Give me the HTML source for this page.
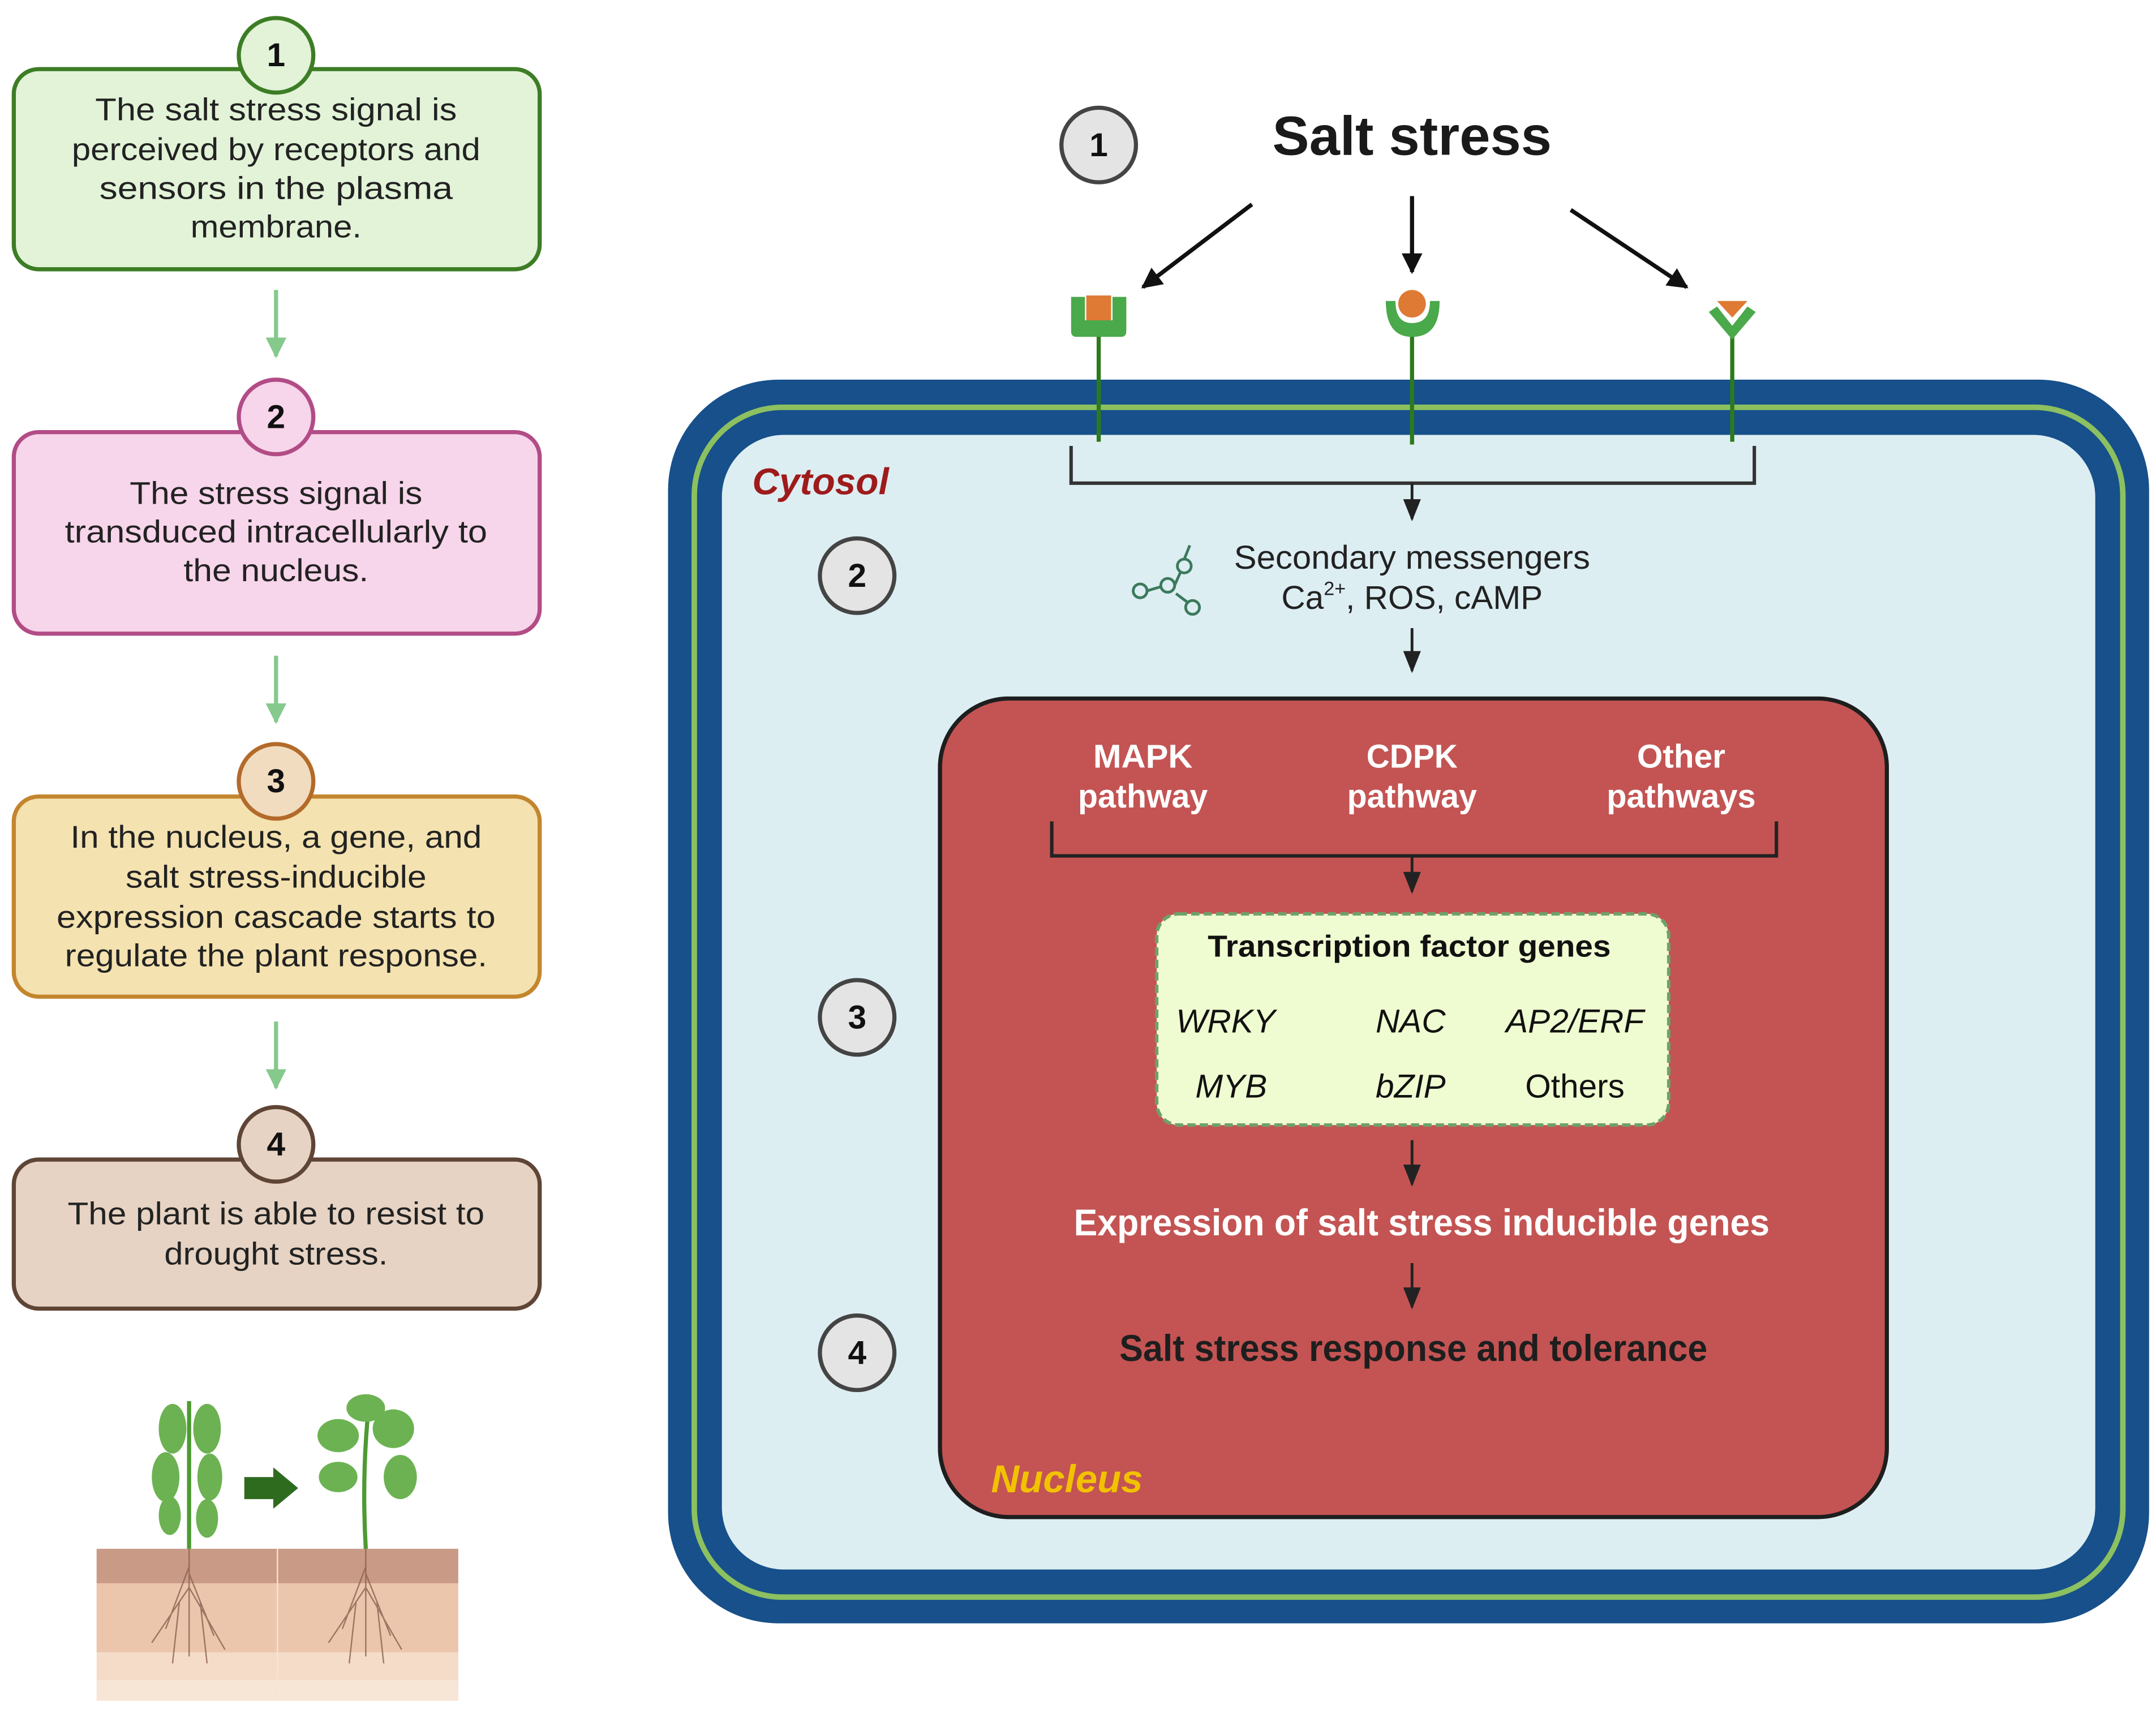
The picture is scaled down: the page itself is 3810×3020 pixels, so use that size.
<!DOCTYPE html>
<html><head><meta charset="utf-8"><style>html,body{margin:0;padding:0;background:#fff}svg{display:block}</style></head>
<body>
<svg width="3810" height="3020" viewBox="0 0 1562 1238" xmlns="http://www.w3.org/2000/svg" font-family="'Liberation Sans', sans-serif">
<defs>
<marker id="ah" viewBox="0 0 10 10" refX="9" refY="5" markerWidth="5" markerHeight="5" orient="auto"><path d="M0,0 L10,5 L0,10 z" fill="#111"/></marker>
<marker id="ahs" viewBox="0 0 10 10" refX="9" refY="5" markerWidth="8" markerHeight="8" orient="auto"><path d="M0,1 L10,5 L0,9 z" fill="#222"/></marker>
<marker id="ahg" viewBox="0 0 10 10" refX="9" refY="5" markerWidth="5" markerHeight="5" orient="auto"><path d="M0,0 L10,5 L0,10 z" fill="#86c98c"/></marker>
</defs>
<rect width="1562" height="1238" fill="#fff"/>

<!-- Left boxes -->
<g stroke-width="3">
<rect x="10" y="50" width="381" height="145" rx="18" fill="#e2f3d8" stroke="#3d7d25"/>
<rect x="10" y="313" width="381" height="146" rx="18" fill="#f7d5ea" stroke="#b24c86"/>
<rect x="10" y="577" width="381" height="145" rx="18" fill="#f4e2b0" stroke="#c3862e"/>
<rect x="10" y="840" width="381" height="108" rx="18" fill="#e6d3c3" stroke="#5f4536"/>
<circle cx="200" cy="40" r="27" fill="#e2f3d8" stroke="#3d7d25"/>
<circle cx="200" cy="302" r="27" fill="#f7d5ea" stroke="#b24c86"/>
<circle cx="200" cy="566" r="27" fill="#f1dcc0" stroke="#b36a2a"/>
<circle cx="200" cy="829" r="27" fill="#e6d3c3" stroke="#5f4536"/>
</g>
<g font-size="24" font-weight="bold" text-anchor="middle" fill="#111">
<text x="200" y="48">1</text><text x="200" y="310">2</text><text x="200" y="574">3</text><text x="200" y="837">4</text>
</g>
<g font-size="23" text-anchor="middle" fill="#222">
<text x="200" y="87" textLength="262" lengthAdjust="spacingAndGlyphs">The salt stress signal is</text>
<text x="200" y="116" textLength="296" lengthAdjust="spacingAndGlyphs">perceived by receptors and</text>
<text x="200" y="144" textLength="256" lengthAdjust="spacingAndGlyphs">sensors in the plasma</text>
<text x="200" y="172" textLength="124" lengthAdjust="spacingAndGlyphs">membrane.</text>
<text x="200" y="365" textLength="212" lengthAdjust="spacingAndGlyphs">The stress signal is</text>
<text x="200" y="393" textLength="306" lengthAdjust="spacingAndGlyphs">transduced intracellularly to</text>
<text x="200" y="421" textLength="134" lengthAdjust="spacingAndGlyphs">the nucleus.</text>
<text x="200" y="614" textLength="298" lengthAdjust="spacingAndGlyphs">In the nucleus, a gene,  and</text>
<text x="200" y="643" textLength="218" lengthAdjust="spacingAndGlyphs">salt stress-inducible</text>
<text x="200" y="672" textLength="318" lengthAdjust="spacingAndGlyphs">expression cascade starts to</text>
<text x="200" y="700" textLength="306" lengthAdjust="spacingAndGlyphs">regulate the plant response.</text>
<text x="200" y="887" textLength="302" lengthAdjust="spacingAndGlyphs">The plant is able to resist to</text>
<text x="200" y="916" textLength="162" lengthAdjust="spacingAndGlyphs">drought stress.</text>
</g>
<g stroke="#86c98c" stroke-width="3" marker-end="url(#ahg)">
<line x1="200" y1="210" x2="200" y2="258"/><line x1="200" y1="475" x2="200" y2="523"/><line x1="200" y1="740" x2="200" y2="788"/>
</g>

<!-- plants -->
<rect x="70" y="1122" width="262" height="110" fill="#f5dcc8"/>
<rect x="70" y="1122" width="262" height="25" fill="#c99a86"/>
<rect x="70" y="1147" width="262" height="50" fill="#ebc6ad"/>
<rect x="70" y="1217" width="262" height="15" fill="#f7e5d6"/>
<line x1="201" y1="1122" x2="201" y2="1232" stroke="#f5e3d5" stroke-width="1"/>
<g stroke="#8a6150" stroke-width="1" fill="none" opacity="0.8">
<path d="M137 1122 L137 1200 M137 1135 L120 1180 M137 1140 L155 1185 M137 1150 L110 1190 M137 1150 L163 1195 M130 1160 L125 1205 M145 1160 L150 1205"/>
<path d="M265 1122 L265 1200 M265 1135 L248 1180 M265 1140 L283 1185 M265 1150 L238 1190 M265 1150 L291 1195 M258 1160 L253 1205 M273 1160 L278 1205"/>
</g>
<g stroke="#4d9a32" stroke-width="3" fill="none"><path d="M137 1122 L137 1015"/><path d="M265 1122 Q262 1070 267 1020"/></g>
<g fill="#6cb252">
<ellipse cx="125" cy="1035" rx="10" ry="18"/><ellipse cx="150" cy="1035" rx="10" ry="18"/>
<ellipse cx="120" cy="1070" rx="10" ry="18"/><ellipse cx="152" cy="1070" rx="9" ry="17"/>
<ellipse cx="123" cy="1098" rx="8" ry="14"/><ellipse cx="150" cy="1100" rx="8" ry="14"/>
<ellipse cx="245" cy="1040" rx="15" ry="12"/><ellipse cx="285" cy="1035" rx="15" ry="14"/>
<ellipse cx="245" cy="1070" rx="14" ry="11"/><ellipse cx="290" cy="1070" rx="12" ry="16"/>
<ellipse cx="265" cy="1020" rx="14" ry="10"/>
</g>
<path d="M177 1070 L198 1070 L198 1063 L216 1078 L198 1093 L198 1086 L177 1086 z" fill="#2e6b1e"/>

<!-- Cell -->
<rect x="484" y="275" width="1073" height="901" rx="80" fill="#17508a"/>
<rect x="503" y="295" width="1035" height="862" rx="64" fill="none" stroke="#8cc060" stroke-width="4"/>
<rect x="523" y="315" width="995" height="822" rx="45" fill="#ddeef3"/>
<text x="545" y="358" font-size="27" font-weight="bold" font-style="italic" fill="#9e1b1b">Cytosol</text>

<!-- Salt stress -->
<text x="1023" y="112" font-size="40" font-weight="bold" text-anchor="middle" fill="#1a1a1a">Salt stress</text>
<g stroke="#111" stroke-width="3" marker-end="url(#ah)">
<line x1="907" y1="148" x2="828" y2="208"/><line x1="1023" y1="142" x2="1023" y2="197"/><line x1="1138" y1="152" x2="1222" y2="208"/>
</g>
<!-- receptors -->
<g stroke="#2c7a1c" stroke-width="3"><line x1="796" y1="240" x2="796" y2="320"/><line x1="1023" y1="240" x2="1023" y2="322"/><line x1="1255" y1="240" x2="1255" y2="320"/></g>
<path d="M776 215 L786 215 L786 232 L806 232 L806 215 L816 215 L816 240 Q816 244 812 244 L780 244 Q776 244 776 240 z" fill="#4aa94a"/>
<rect x="787" y="214" width="18" height="18" fill="#de7a34"/>
<path d="M1004 218 Q1004 244 1023 244 Q1043 244 1043 218 L1036 218 Q1036 234 1023 234 Q1011 234 1011 218 z" fill="#4aa94a"/>
<circle cx="1023" cy="220" r="10" fill="#de7a34"/>
<path d="M1238 226 L1255 246 L1272 226 L1266 222 L1255 236 L1244 222 z" fill="#4aa94a"/>
<path d="M1244 218 L1266 218 L1255 230 z" fill="#de7a34"/>

<!-- bracket -->
<path d="M776 323 L776 350 L1271 350 L1271 323" fill="none" stroke="#333" stroke-width="2.5"/>
<line x1="1023" y1="350" x2="1023" y2="376" stroke="#222" stroke-width="2" marker-end="url(#ahs)"/>
<g stroke="#3b7a5c" stroke-width="2" fill="none">
<circle cx="826" cy="428" r="5"/><circle cx="846" cy="424" r="5"/><circle cx="858" cy="410" r="5"/><circle cx="864" cy="440" r="5"/>
<path d="M831 428 L841 425 M851 424 L855 415 M858 405 L862 395 M852 430 L860 436"/>
</g>
<text x="1023" y="412" font-size="24" text-anchor="middle" fill="#222" textLength="258" lengthAdjust="spacingAndGlyphs">Secondary messengers</text>
<text x="1023" y="441" font-size="24" text-anchor="middle" fill="#222">Ca<tspan font-size="14" dy="-10">2+</tspan><tspan dy="10">, ROS, cAMP</tspan></text>
<line x1="1023" y1="455" x2="1023" y2="486" stroke="#222" stroke-width="2" marker-end="url(#ahs)"/>

<!-- Nucleus -->
<rect x="681" y="506" width="686" height="593" rx="50" fill="#c35453" stroke="#1e1e1e" stroke-width="3"/>
<g font-size="24" font-weight="bold" text-anchor="middle" fill="#fff">
<text x="828" y="556" textLength="72" lengthAdjust="spacingAndGlyphs">MAPK</text><text x="828" y="585" textLength="94" lengthAdjust="spacingAndGlyphs">pathway</text>
<text x="1023" y="556" textLength="66" lengthAdjust="spacingAndGlyphs">CDPK</text><text x="1023" y="585" textLength="94" lengthAdjust="spacingAndGlyphs">pathway</text>
<text x="1218" y="556" textLength="64" lengthAdjust="spacingAndGlyphs">Other</text><text x="1218" y="585" textLength="108" lengthAdjust="spacingAndGlyphs">pathways</text>
</g>
<path d="M762 595 L762 620 L1287 620 L1287 595" fill="none" stroke="#222" stroke-width="2.5"/>
<line x1="1023" y1="620" x2="1023" y2="646" stroke="#222" stroke-width="2" marker-end="url(#ahs)"/>
<rect x="838" y="662" width="371" height="153" rx="16" fill="#effbd0" stroke="#6fa06a" stroke-width="2.5" stroke-dasharray="6 3"/>
<text x="1021" y="693" font-size="22" font-weight="bold" text-anchor="middle" fill="#111" textLength="292" lengthAdjust="spacingAndGlyphs">Transcription factor genes</text>
<g font-size="24" font-style="italic" text-anchor="middle" fill="#111">
<text x="888" y="748">WRKY</text><text x="1022" y="748">NAC</text><text x="1141" y="748">AP2/ERF</text>
<text x="892" y="795">MYB</text><text x="1022" y="795">bZIP</text><text x="1141" y="795" font-style="normal">Others</text>
</g>
<line x1="1023" y1="826" x2="1023" y2="858" stroke="#222" stroke-width="2" marker-end="url(#ahs)"/>
<text x="1030" y="895" font-size="27" font-weight="bold" text-anchor="middle" fill="#fff" textLength="504" lengthAdjust="spacingAndGlyphs">Expression of salt stress inducible genes</text>
<line x1="1023" y1="915" x2="1023" y2="947" stroke="#222" stroke-width="2" marker-end="url(#ahs)"/>
<text x="1024" y="986" font-size="27" font-weight="bold" text-anchor="middle" fill="#1e1e1e" textLength="426" lengthAdjust="spacingAndGlyphs">Salt stress response and tolerance</text>
<text x="718" y="1081" font-size="28" font-weight="bold" font-style="italic" fill="#f2c200" textLength="110" lengthAdjust="spacingAndGlyphs">Nucleus</text>

<!-- numbered gray circles -->
<g fill="#e4e4e4" stroke="#444" stroke-width="3">
<circle cx="796" cy="105" r="27"/><circle cx="621" cy="417" r="27"/><circle cx="621" cy="737" r="27"/><circle cx="621" cy="980" r="27"/>
</g>
<g font-size="24" font-weight="bold" text-anchor="middle" fill="#111">
<text x="796" y="113">1</text><text x="621" y="425">2</text><text x="621" y="745">3</text><text x="621" y="988">4</text>
</g>
</svg>
</body></html>
